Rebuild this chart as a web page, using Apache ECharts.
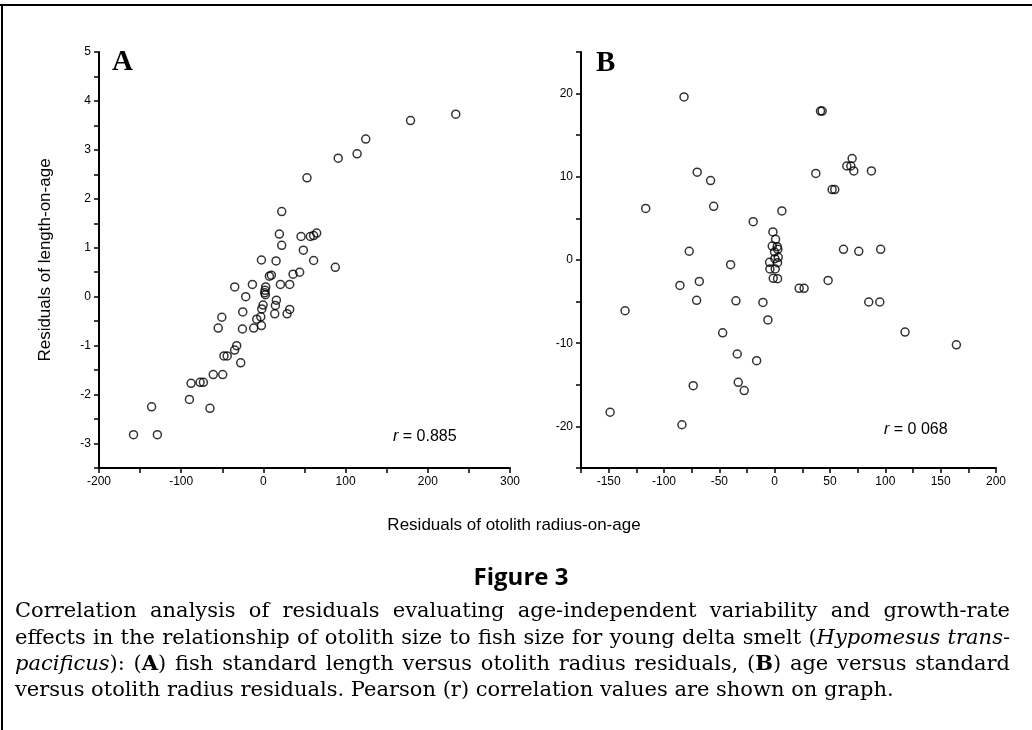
<!DOCTYPE html>
<html>
<head>
<meta charset="utf-8">
<script src="https://cdn.jsdelivr.net/npm/echarts@6/dist/echarts.min.js"></script>
<style>
html, body { margin: 0; padding: 0; background: #fff; }
#chart { width: 1032px; height: 730px; }
</style>
</head>
<body>
<div id="chart"></div>
<script>
// Panel A: residuals of otolith radius-on-age (x) vs residuals of length-on-age (y)
const radiusResidA = [-158, -129, -136, -90, -65, -88, -77, -73, -61, -49.5,
  -48, -44, -35, -32.5, -27.6, -55, -50.6, -25.5, -25.1, -11.8,
  -8.1, -3.2, -2.4, -2.0, -0.4, -34.9, -21.5, -13.4, -2.4, 2.8,
  2.0, 1.6, 2.4, 7.3, 9.7, 15.4, 15.8, 14.6, 13.8, 20.7,
  32, 36.1, 44.1, 32, 28.8, 61.1, 87.5, 48.6, 22.3, 19.4,
  45.8, 57.1, 61.1, 64.8, 22.3, 53, 91, 114, 124.5, 179, 234];
const lengthResidA = [-2.82, -2.82, -2.25, -2.10, -2.28, -1.77, -1.75, -1.75, -1.59, -1.59,
  -1.21, -1.21, -1.09, -1.0, -1.35, -0.64, -0.42, -0.66, -0.31, -0.64,
  -0.46, -0.41, -0.59, -0.25, -0.17, 0.20, 0.0, 0.25, 0.75, 0.20,
  0.13, 0.08, 0.04, 0.42, 0.44, 0.73, -0.07, -0.18, -0.35, 0.25,
  0.25, 0.46, 0.50, -0.26, -0.35, 0.74, 0.60, 0.95, 1.05, 1.28,
  1.23, 1.23, 1.25, 1.30, 1.74, 2.43, 2.83, 2.92, 3.22, 3.60, 3.73];

// Panel B: residuals of otolith radius-on-age (x) vs age residuals (y)
const radiusResidB = [-81.9, -70, -57.9, -116.5, -55.1, -77.2, -39.8, -85.6, -68.1, -70.5,
  -35, -135.2, -47, -33.8, -73.6, -32.9, -27.5, -148.7, -83.8, -10.6,
  -6.1, -16.3, 22.1, 26.6, 48.3, 85, 95, 117.8, 164.2, 41.4,
  42.9, 70, 65.2, 68.8, 71.5, 87.4, 37.2, 51.9, 54.3, 6.5,
  -19.4, 62.2, 76, 95.8, -1.6, 0.8, -2.2, 2.3, 2.9, -0.1,
  3.2, 0.2, -4.6, 2.6, -4.3, 0.5, -1.3, 2.6];
const ageResidB = [19.6, 10.55, 9.55, 6.2, 6.45, 1.05, -0.56, -3.05, -2.57, -4.85,
  -4.9, -6.1, -8.75, -11.3, -15.1, -14.7, -15.7, -18.3, -19.8, -5.1,
  -7.2, -12.1, -3.4, -3.4, -2.45, -5.05, -5.05, -8.66, -10.2, 17.9,
  17.9, 12.2, 11.3, 11.3, 10.7, 10.7, 10.4, 8.46, 8.46, 5.9,
  4.6, 1.28, 1.04, 1.28, 3.37, 2.49, 1.68, 1.6, 1.28, 0.96,
  0.32, 0.16, -0.28, -0.32, -1.08, -1.08, -2.2, -2.25];

const panelLetters = ['A', 'B'];
const corrValues = ['0.885', '0 068'];

const chart = echarts.init(document.getElementById('chart'));

function zip(xs, ys) {
  return xs.map((x, i) => [x, ys[i]]);
}

function axisBase(min, max, step, labelEvery) {
  return {
    type: 'value',
    min: min,
    max: max,
    interval: step,
    splitLine: { show: false },
    axisLine: { onZero: false, lineStyle: { color: '#000', width: 2 } },
    axisTick: { length: 5, lineStyle: { color: '#000', width: 1.5 } },
    axisLabel: {
      color: '#000',
      fontFamily: 'Liberation Sans',
      fontSize: 12,
      formatter: v => (Math.abs(v % labelEvery) < 1e-9 ? String(v) : '')
    }
  };
}

// caption, laid out word by word so the lines are justified
const ctx = document.createElement('canvas').getContext('2d');
const capSize = 21;
const capFamily = 'DejaVu Serif';
function capFont(st) {
  return (st === 'i' ? 'italic ' : '') + (st === 'b' ? 'bold ' : '') + capSize + 'px "' + capFamily + '"';
}
function textW(s, st) {
  ctx.font = capFont(st);
  return ctx.measureText(s).width;
}
const captionLines = [
  { j: true, segs: [['Correlation analysis of residuals evaluating age-independent variability and growth-rate', 'n']] },
  { j: true, segs: [['effects in the relationship of otolith size to fish size for young delta smelt (', 'n'], ['Hypomesus trans-', 'i']] },
  { j: true, segs: [['pacificus', 'i'], ['): (', 'n'], ['A', 'b'], [') fish standard length versus otolith radius residuals, (', 'n'], ['B', 'b'], [') age versus standard', 'n']] },
  { j: false, segs: [['versus otolith radius residuals. Pearson (r) correlation values are shown on graph.', 'n']] }
];
function lineWords(segs) {
  const words = [[]];
  segs.forEach(([t, st]) => {
    t.split(' ').forEach((part, i) => {
      if (i > 0) words.push([]);
      if (part) words[words.length - 1].push([part, st]);
    });
  });
  return words.filter(w => w.length);
}
const capLeft = 15, capRight = 1010, capTop = 612, capStep = 26.3;
const captionEls = [];
captionLines.forEach((line, li) => {
  const words = lineWords(line.segs);
  const widths = words.map(w => w.reduce((s, p) => s + textW(p[0], p[1]), 0));
  const total = widths.reduce((a, b) => a + b, 0);
  const gap = line.j ? (capRight - capLeft - total) / (words.length - 1) : textW(' ', 'n');
  let x = capLeft;
  words.forEach((w, wi) => {
    w.forEach(p => {
      captionEls.push({
        type: 'text', x: x, y: capTop + li * capStep,
        style: {
          text: p[0], fill: '#000', verticalAlign: 'middle',
          fontFamily: capFamily, fontSize: capSize,
          fontStyle: p[1] === 'i' ? 'italic' : 'normal',
          fontWeight: p[1] === 'b' ? 'bold' : 'normal'
        }
      });
      x += textW(p[0], p[1]);
    });
    x += gap;
  });
});

const rStyle = { fontStyle: 'italic', fontFamily: 'Liberation Sans', fontSize: 16 };

const option = {
  backgroundColor: '#fff',
  animation: false,
  grid: [
    { left: 99, top: 52, width: 411, height: 416 },
    { left: 581, top: 52, width: 415, height: 416 }
  ],
  xAxis: [
    Object.assign(axisBase(-200, 300, 50, 100), { gridIndex: 0 }),
    Object.assign(axisBase(-175, 200, 25, 50), { gridIndex: 1 })
  ],
  yAxis: [
    Object.assign(axisBase(-3.5, 5, 0.5, 1), { gridIndex: 0 }),
    Object.assign(axisBase(-25, 25, 5, 10), { gridIndex: 1 })
  ],
  series: [
    {
      type: 'scatter', xAxisIndex: 0, yAxisIndex: 0,
      data: zip(radiusResidA, lengthResidA),
      symbol: 'circle', symbolSize: 8,
      itemStyle: { color: 'rgba(0,0,0,0)', borderColor: '#000', borderWidth: 1.5 }
    },
    {
      type: 'scatter', xAxisIndex: 1, yAxisIndex: 1,
      data: zip(radiusResidB, ageResidB),
      symbol: 'circle', symbolSize: 8,
      itemStyle: { color: 'rgba(0,0,0,0)', borderColor: '#000', borderWidth: 1.5 }
    }
  ],
  graphic: [
    // figure frame (top and left edges)
    { type: 'line', shape: { x1: 0, y1: 5, x2: 1032, y2: 5 }, style: { stroke: '#000', lineWidth: 2 } },
    { type: 'line', shape: { x1: 2, y1: 5, x2: 2, y2: 730 }, style: { stroke: '#000', lineWidth: 2 } },
    // panel letters
    { type: 'text', x: 112, y: 63, style: { text: panelLetters[0], fill: '#000', fontFamily: 'Liberation Serif', fontWeight: 'bold', fontSize: 29, verticalAlign: 'middle' } },
    { type: 'text', x: 596, y: 64, style: { text: panelLetters[1], fill: '#000', fontFamily: 'Liberation Serif', fontWeight: 'bold', fontSize: 29, verticalAlign: 'middle' } },
    // correlation values
    { type: 'text', x: 393, y: 437, style: { text: '{i|r} = ' + corrValues[0], fill: '#000', fontFamily: 'Liberation Sans', fontSize: 16, verticalAlign: 'middle', rich: { i: rStyle } } },
    { type: 'text', x: 884, y: 430, style: { text: '{i|r} = ' + corrValues[1], fill: '#000', fontFamily: 'Liberation Sans', fontSize: 16, verticalAlign: 'middle', rich: { i: rStyle } } },
    // axis titles
    { type: 'text', x: 45, y: 260, rotation: Math.PI / 2, style: { text: 'Residuals of length-on-age', fill: '#000', fontFamily: 'Liberation Sans', fontSize: 17, align: 'center', verticalAlign: 'middle' } },
    { type: 'text', x: 514, y: 525, style: { text: 'Residuals of otolith radius-on-age', fill: '#000', fontFamily: 'Liberation Sans', fontSize: 17, align: 'center', verticalAlign: 'middle' } },
    // figure label
    { type: 'text', x: 521, y: 578, style: { text: 'Figure 3', fill: '#000', fontFamily: 'Open Sans', fontWeight: 'bold', fontSize: 24, align: 'center', verticalAlign: 'middle' } }
  ].concat(captionEls)
};
chart.setOption(option);
</script>
</body>
</html>
